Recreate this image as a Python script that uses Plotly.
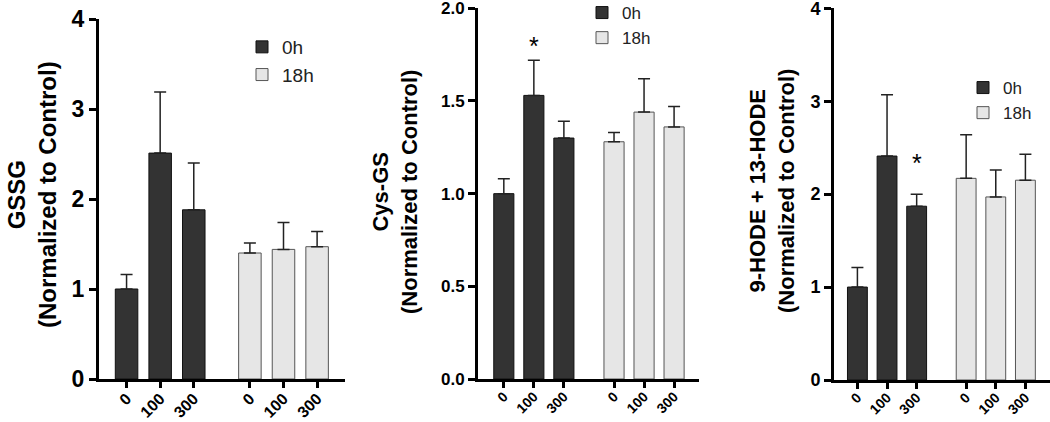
import plotly.graph_objects as go

doses = ["0", "100", "300"]
groups = ["0h", "18h"]

gssg_0h = [1.00, 2.51, 1.88]
gssg_0h_err = [0.16, 0.68, 0.52]
gssg_18h = [1.40, 1.44, 1.47]
gssg_18h_err = [0.11, 0.30, 0.17]

cys_0h = [1.00, 1.53, 1.30]
cys_0h_err = [0.08, 0.19, 0.09]
cys_18h = [1.28, 1.44, 1.36]
cys_18h_err = [0.05, 0.18, 0.11]

hode_0h = [1.00, 2.41, 1.87]
hode_0h_err = [0.21, 0.66, 0.13]
hode_18h = [2.17, 1.97, 2.15]
hode_18h_err = [0.47, 0.29, 0.28]

titles = ["GSSG<br>(Normalized to Control)",
          "Cys-GS<br>(Normalized to Control)",
          "9-HODE + 13-HODE<br>(Normalized to Control)"]
star_panel = [2, 3]
star_dose = [1, 2]
star_y = [1.83, 2.40]

FONT = "Arial, Liberation Sans, sans-serif"
DARK = "#333333"
LIGHT = "#e6e6e6"
W, H = 1050, 422

group_gap = 3.67
pos0 = [i for i in range(3)]
pos18 = [group_gap + i for i in range(3)]

panels = [
    (gssg_0h, gssg_0h_err, gssg_18h, gssg_18h_err),
    (cys_0h, cys_0h_err, cys_18h, cys_18h_err),
    (hode_0h, hode_0h_err, hode_18h, hode_18h_err),
]

fig = go.Figure()
legend_names = ["legend", "legend2", "legend3"]
for k, (v0, e0, v18, e18) in enumerate(panels):
    ax = "" if k == 0 else str(k + 1)
    for name, pos, vals, errs, col, lc in [
        ("0h", pos0, v0, e0, DARK, "#111111"),
        ("18h", pos18, v18, e18, LIGHT, "#555555"),
    ]:
        fig.add_trace(go.Bar(
            x=pos, y=vals, name=name, width=0.67,
            marker=dict(color=col, line=dict(color=lc, width=1)),
            error_y=dict(type="data", array=errs, arrayminus=[0] * len(errs),
                         symmetric=False, color="#222222", thickness=1.5, width=6),
            xaxis="x" + ax, yaxis="y" + ax,
            legend=legend_names[k], legendgroup=name + str(k),
        ))


def px_x(v):
    return v / W


def px_y(v):
    return 1 - v / H


xdomains = [[px_x(99), px_x(345)], [px_x(478), px_x(699)], [px_x(834), 1.0]]
ydomains = [[px_y(379), px_y(19)], [px_y(379), px_y(8.3)], [px_y(380), px_y(8.3)]]
xranges = [[-0.82, 6.5], [-0.86, 6.5], [-0.79, 6.5]]
y_ranges = [[0, 4], [0, 2.0], [0, 4]]
ytickvals = [[0, 1, 2, 3, 4], [0, 0.5, 1.0, 1.5, 2.0], [0, 1, 2, 3, 4]]
yticktext = [["0", "1", "2", "3", "4"], ["0.0", "0.5", "1.0", "1.5", "2.0"], ["0", "1", "2", "3", "4"]]
ytickfont = [23, 17, 18]
xtickfont = [16, 14, 14]
legendfont = [19, 17, 17]

layout = dict(
    width=W, height=H,
    margin=dict(l=0, r=0, t=0, b=0, autoexpand=False),
    plot_bgcolor="white", paper_bgcolor="white",
    barmode="overlay",
    font=dict(family=FONT, color="#111111"),
)
for k in range(3):
    ax = "" if k == 0 else str(k + 1)
    layout["xaxis" + ax] = dict(
        domain=xdomains[k], range=xranges[k], anchor="y" + ax,
        tickmode="array", tickvals=pos0 + pos18, ticktext=doses + doses,
        tickangle=-45, ticks="outside", ticklen=6, tickwidth=3, tickcolor="black",
        showline=True, linewidth=3, linecolor="black", showgrid=False, zeroline=False,
        tickfont=dict(family=FONT, size=xtickfont[k], color="black", weight="bold"),
        ticklabeloverflow="allow", ticklabelstandoff=-5,
        automargin=False, fixedrange=True,
    )
    layout["yaxis" + ax] = dict(
        domain=ydomains[k], range=y_ranges[k], anchor="x" + ax,
        tickmode="array", tickvals=ytickvals[k], ticktext=yticktext[k],
        ticks="outside", ticklen=7, tickwidth=3, tickcolor="black",
        showline=True, linewidth=3, linecolor="black", showgrid=False, zeroline=False,
        tickfont=dict(family=FONT, size=ytickfont[k], color="black", weight="bold"),
        ticklabeloverflow="allow",
        automargin=False, fixedrange=True,
    )

legend_pos = [(242, 28), (582, -5), (963, 70)]
for k, (lx, ly) in enumerate(legend_pos):
    layout[legend_names[k]] = dict(
        x=px_x(lx), y=px_y(ly), xanchor="left", yanchor="top",
        bgcolor="rgba(0,0,0,0)", font=dict(family=FONT, size=legendfont[k], color="#222222"),
        tracegroupgap=0, traceorder="grouped",
    )

fig.update_layout(**layout)

title_pos = [(32, 195, 24), (395, 192, 22), (772, 191, 22)]
for k, (tx, ty, fs) in enumerate(title_pos):
    fig.add_annotation(
        text="<b>" + titles[k].replace("<br>", "</b><br><b>") + "</b>",
        x=px_x(tx), y=px_y(ty), xref="paper", yref="paper",
        textangle=-90, showarrow=False, xanchor="center", yanchor="middle",
        font=dict(family=FONT, size=fs, color="black"),
    )

for p, d, sy in zip(star_panel, star_dose, star_y):
    ax = "" if p == 1 else str(p)
    fig.add_annotation(
        text="*", x=pos0[d], y=sy, xref="x" + ax, yref="y" + ax,
        showarrow=False, yanchor="middle", yshift=-6,
        font=dict(family=FONT, size=25, color="black"),
    )

fig.write_html("out.html", config={"displayModeBar": False},
               post_script="document.body.style.margin='0';")
